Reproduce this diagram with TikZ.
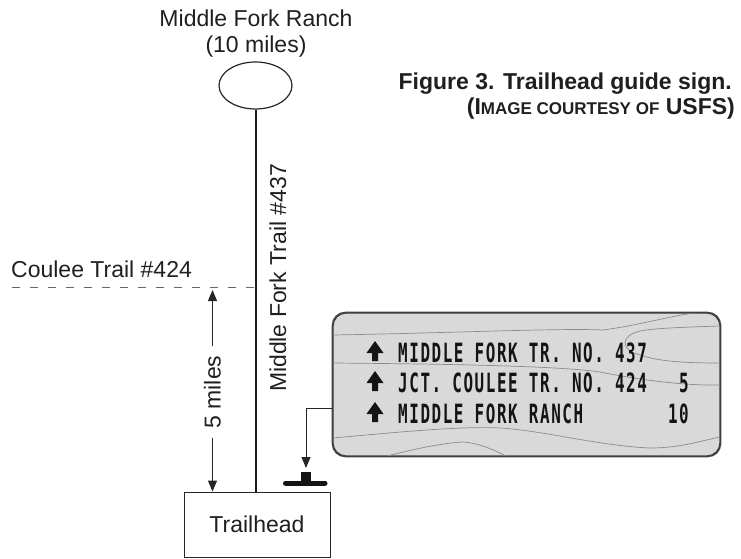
\documentclass[tikz,border=0pt]{standalone}
\usepackage{fontspec}
\setmainfont{Liberation Sans}
\newfontfamily\signfont[FakeStretch=0.6,LetterSpace=6]{DejaVu Sans Mono}
\usetikzlibrary{arrows.meta,shapes.geometric}
\begin{document}
\begin{tikzpicture}[x=1pt,y=-1pt,
  lbl/.style={font=\fontsize{23}{26}\selectfont, inner sep=0pt, text=black!88},
  captxt/.style={font=\bfseries\fontsize{23}{26}\selectfont, inner sep=0pt, text=black!88},
  signtxt/.style={font=\signfont\bfseries\fontsize{26.5}{28}\selectfont, inner sep=0pt, text=black!92},
  thinline/.style={line width=1pt, draw=black!85},
  dimarrow/.style={thinline, -{Triangle[length=11pt,width=9pt]}},
  grain/.style={draw=black!45, line width=0.7pt},
  uparr/.pic={\fill[black!92] (0,-20) -- (8.5,-8) -- (3,-8) -- (3,0) -- (-3,0) -- (-3,-8) -- (-8.5,-8) -- cycle;}
]
\useasboundingbox (0,0) rectangle (741,559);

% caption
\node[captxt, anchor=base east] (cap1) at (732,90) {Figure 3. Trailhead guide sign.};
\node[captxt, anchor=base east] (cap2) at (735,115) {(I{\fontsize{17}{20}\selectfont MAGE COURTESY OF} USFS)};

% ranch
\node[lbl, align=center, anchor=base] (ranchlbl) at (256,53) {Middle Fork Ranch\\(10 miles)};
\node[draw=black!85, line width=1.2pt, ellipse, minimum width=73pt, minimum height=47pt, inner sep=0pt] (ranch) at (255.5,85.5) {};

% trailhead
\node[draw=black!85, line width=1pt, minimum width=146pt, minimum height=65pt, lbl] (th) at (257,524.5) {Trailhead};

% main trail
\draw[line width=2pt, draw=black!90] (ranch.south) -- (ranch.south |- th.north);
\node[lbl, rotate=90, anchor=base] (mft) at (286,278) {Middle Fork Trail \#437};

% coulee trail
\node[lbl, anchor=base west] (coulee) at (11,277) {Coulee Trail \#424};
\coordinate (cw) at (12,287);
\draw[draw=black!60, line width=1pt, dash pattern=on 8pt off 10pt] (cw) -- (ranch.south |- cw);

% 5 miles dimension
\node[lbl, rotate=90, inner xsep=9pt] (five) at (212.5,392) {5 miles};
\draw[dimarrow, shorten >=3pt] (five.east) -- (five.east |- cw);
\draw[dimarrow] (five.west) -- (five.west |- th.north);

% sign
\node[draw=black!75, line width=1.3pt, fill=black!15, rounded corners=13pt, minimum width=387pt, minimum height=143pt, inner sep=0pt] (sign) at (526.5,384.5) {};
\begin{scope}
  \clip[rounded corners=13pt] (sign.south west) rectangle (sign.north east);
  \draw[grain] (333,335) .. controls (450,333) and (560,328) .. (603,330) .. controls (640,325) and (670,316) .. (700,312);
  \draw[grain] (720,326) .. controls (690,327) and (655,328) .. (640,331) .. controls (620,336) and (620,350) .. (640,355) .. controls (660,362) and (690,363) .. (720,363);
  \draw[grain] (333,363) .. controls (450,364) and (560,366) .. (600,372) .. controls (630,378) and (680,386) .. (720,385);
  \draw[grain] (333,438) .. controls (400,432) and (460,426) .. (500,428) .. controls (540,430) and (600,446) .. (650,448) .. controls (680,448) and (700,441) .. (720,437);
  \draw[grain] (373,460) .. controls (400,452) and (440,443) .. (463,442) .. controls (480,443) and (500,452) .. (512,460);
\end{scope}
\draw[draw=black!75, line width=1.3pt, rounded corners=13pt] (sign.south west) rectangle (sign.north east);

\node[signtxt, anchor=base west] (r1) at (398,362) {MIDDLE FORK TR. NO. 437};
\node[signtxt, anchor=base west] (r2) at (398,392) {JCT. COULEE TR. NO. 424};
\node[signtxt, anchor=base west] (r3) at (398,423) {MIDDLE FORK RANCH};
\node[signtxt, anchor=base east] (n5) at (689,392) {5};
\node[signtxt, anchor=base east] (n10) at (689,423) {10};
\pic at (375,361) {uparr};
\pic at (375,391) {uparr};
\pic at (375,422) {uparr};

% leader to post
\coordinate (lead) at (sign.west |- 0,408);
\coordinate (post) at (306,472);
\draw[dimarrow, shorten >=4pt] (lead) -| (post);
\fill[black!92] (301,472) rectangle (311,483);
\draw[black!92, line width=5pt, line cap=round] (285.5,483) -- (325,483);
\end{tikzpicture}
\end{document}
